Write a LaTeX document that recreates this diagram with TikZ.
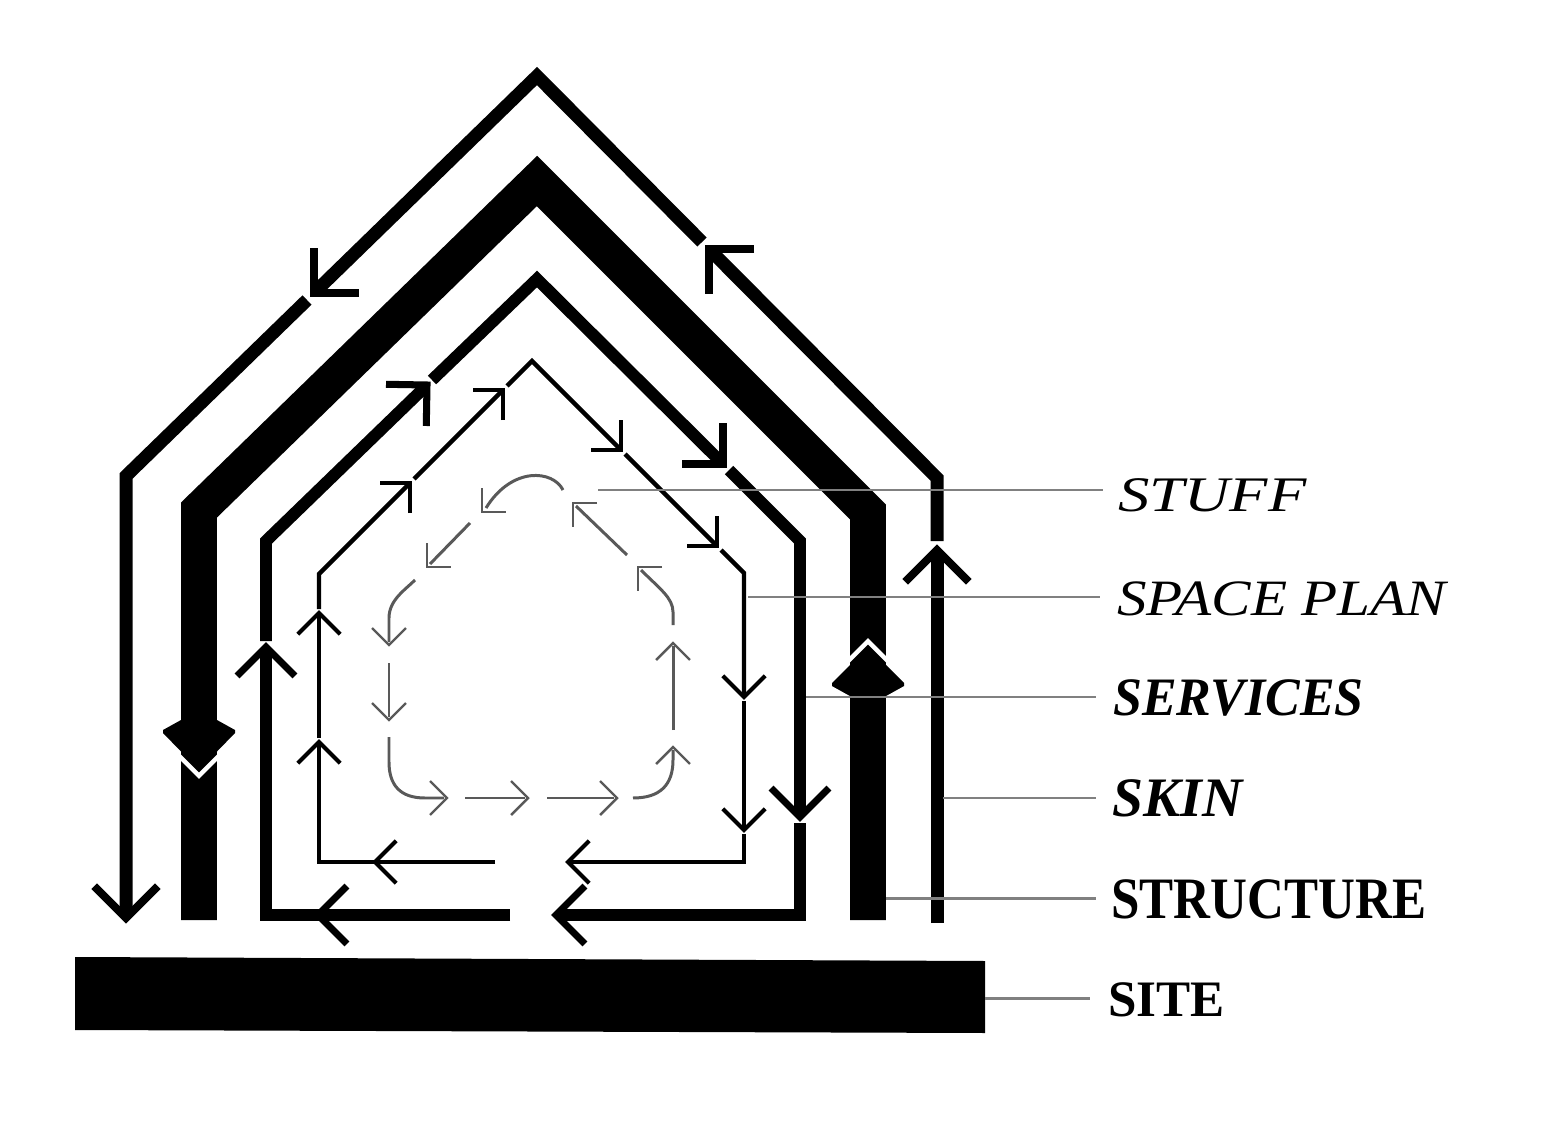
\documentclass[tikz,border=0pt]{standalone}
\usepackage{fontspec}
\setmainfont{Liberation Serif}
\definecolor{stuffgray}{gray}{0.35}
\definecolor{leadgray}{gray}{0.5}
\newcommand{\chev}[4]{\draw[#4] (#1) ++(#2+135:#3) -- (#1) -- ++(#2-135:#3);}
\tikzset{
  skinln/.style={line width=7.4pt},
  skinhd/.style={line width=4.5pt},
  strucln/.style={line width=20.4pt},
  servln/.style={line width=6.8pt},
  servhd/.style={line width=4pt},
  spln/.style={line width=2.55pt},
  sphd/.style={line width=2.27pt},
  stuffln/.style={line width=1.7pt, draw=stuffgray},
  stuffhd/.style={line width=1.4pt, draw=stuffgray},
  leader/.style={line width=1.7pt, draw=leadgray},
  lab/.style={anchor=base west, inner sep=0pt, text=black},
  gapv/.style={white, line width=2.5pt}
}
\begin{document}
\begin{tikzpicture}[x=0.02cm,y=-0.02cm,line join=miter]
\useasboundingbox (0,0) rectangle (1566,1132);
\fill[white] (0,0) rectangle (1566,1132);

% SITE
\fill (75,957) -- (985,961) -- (985,1033) -- (75,1030) -- cycle;

% STRUCTURE
\draw[strucln] (868,920) -- (868,512) -- (537,181) -- (199,510) -- (199,920);
\draw[gapv] (176,752.7) -- (199,775.7) -- (222,752.7);
\fill (181,720) -- (163,730) -- (163,733) -- (199,770) -- (235,733) -- (235,730) -- (217,720) -- cycle;
\draw[gapv] (845,664.3) -- (868,641.3) -- (891,664.3);
\fill (868,647) -- (832,683) -- (832,686) -- (850,696) -- (886,696) -- (904,686) -- (904,683) -- cycle;

% SKIN
\draw[skinln] (937,923) -- (937,553);
\chev{937,550}{270}{45}{skinhd}
\draw[skinln] (937,541) -- (937,478) -- (712,252);
\chev{709,249}{225}{45}{skinhd}
\draw[skinln] (702,242) -- (537,76) -- (317,290);
\chev{314,293}{135}{45}{skinhd}
\draw[skinln] (307,300) -- (126,476) -- (126,914);
\chev{126,918}{90}{45}{skinhd}

% SERVICES
\draw[servln] (510,915) -- (266,915) -- (266,651);
\chev{318,915}{180}{41}{servhd}
\chev{266,647}{270}{41}{servhd}
\draw[servln] (266,641) -- (266,541) -- (424,388);
\chev{427,385}{-44}{41}{servhd}
\draw[servln] (432,380) -- (537,279) -- (720,461);
\chev{723,464}{45}{41}{servhd}
\draw[servln] (729,470) -- (800,541) -- (800,813);
\chev{800,817}{90}{41}{servhd}
\draw[servln] (800,823) -- (800,915) -- (559,915);
\chev{556,915}{180}{41}{servhd}

% SPACE PLAN
\draw[spln] (495,862) -- (319,862) -- (319,744);
\chev{375,862}{180}{30}{sphd}
\chev{319,742}{270}{30}{sphd}
\draw[spln] (319,738) -- (319,616);
\chev{319,613}{270}{30}{sphd}
\draw[spln] (319,609) -- (319,574) -- (408,485);
\chev{410,483}{-45}{30}{sphd}
\draw[spln] (414,479) -- (501,392);
\chev{503,390}{-45}{30}{sphd}
\draw[spln] (507,386) -- (532,361) -- (619,448);
\chev{621,450}{45}{30}{sphd}
\draw[spln] (625,454) -- (715,544);
\chev{717,546}{45}{30}{sphd}
\draw[spln] (721,550) -- (744,573) -- (744,695);
\chev{744,697}{90}{30}{sphd}
\draw[spln] (744,701) -- (744,828);
\chev{744,830}{90}{30}{sphd}
\draw[spln] (744,834) -- (744,862) -- (570,862);
\chev{568,862}{180}{30}{sphd}

% STUFF
\draw[stuffln] (563,490) .. controls (553,470) and (512,466) .. (486,508);
\chev{482,512}{135}{24}{stuffhd}
\draw[stuffln] (470,523) -- (430,564);
\chev{427,567}{135}{24}{stuffhd}
\draw[stuffln] (415,580) .. controls (405,590) and (389,600) .. (389,618) -- (389,642);
\chev{389,645}{90}{24}{stuffhd}
\draw[stuffln] (389,663) -- (389,717);
\chev{389,720}{90}{24}{stuffhd}
\draw[stuffln] (389,737) -- (389,762) .. controls (389,785) and (400,798) .. (425,798) -- (444,798);
\chev{447,798}{0}{24}{stuffhd}
\draw[stuffln] (465,798) -- (525,798);
\chev{528,798}{0}{24}{stuffhd}
\draw[stuffln] (547,798) -- (614,798);
\chev{617,798}{0}{24}{stuffhd}
\draw[stuffln] (633,798) .. controls (660,798) and (673,785) .. (673,760) -- (673,750);
\chev{673,747}{270}{24}{stuffhd}
\draw[stuffln] (673,730) -- (673,646);
\chev{673,643}{270}{24}{stuffhd}
\draw[stuffln] (673,625) -- (673,612) .. controls (673,598) and (660,589) .. (641,570);
\chev{638,567}{225}{24}{stuffhd}
\draw[stuffln] (627,555) -- (576,506);
\chev{573,503}{225}{24}{stuffhd}

% LABELS
\node[lab, font=\fontsize{28.3}{30}\selectfont\itshape, xscale=1.26] (stuff) at (1118,511) {STUFF};
\node[lab, font=\fontsize{29}{31}\selectfont\itshape, xscale=1.16] (space) at (1117,615) {SPACE PLAN};
\node[lab, font=\fontsize{30.8}{32}\selectfont\bfseries\itshape, xscale=0.96] (serv) at (1113,715) {SERVICES};
\node[lab, font=\fontsize{31.7}{33}\selectfont\bfseries\itshape, xscale=1.0] (skin) at (1112,816) {SKIN};
\node[lab, font=\fontsize{33.4}{35}\selectfont\bfseries, xscale=0.87] (struc) at (1111,918) {STRUCTURE};
\node[lab, font=\fontsize{29.1}{31}\selectfont\bfseries, xscale=1.0] (site) at (1108,1016) {SITE};

% LEADERS
\draw[leader] (598,490) -- (1103,490);
\draw[leader] (748,597) -- (1100,597);
\draw[leader] (806,697) -- (1096,697);
\draw[leader] (943,798) -- (1096,798);
\draw[leader] (886,898) -- (1096,898);
\draw[leader] (985,998) -- (1090,998);
\end{tikzpicture}
\end{document}
